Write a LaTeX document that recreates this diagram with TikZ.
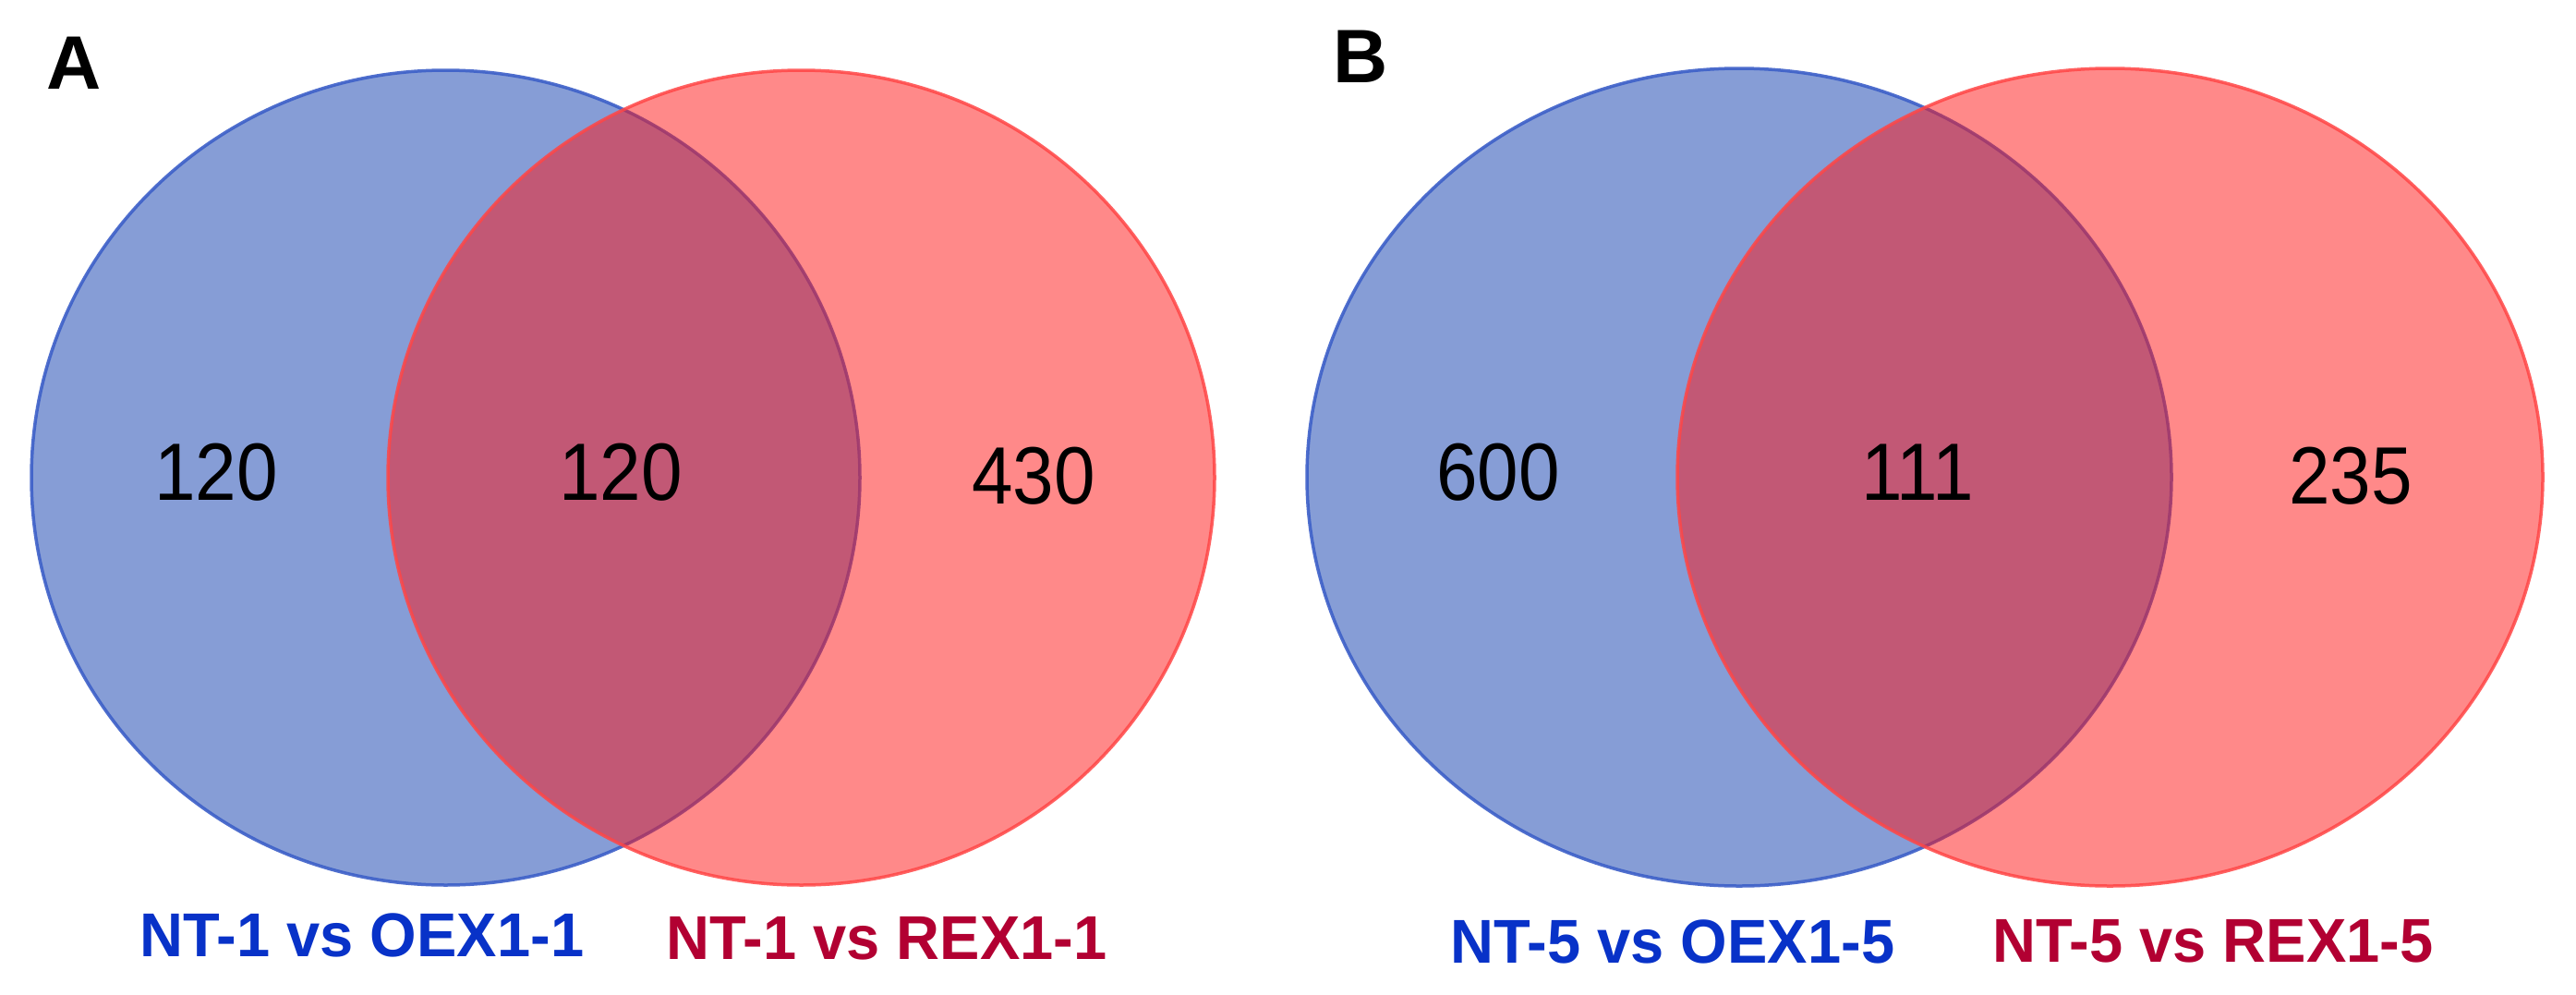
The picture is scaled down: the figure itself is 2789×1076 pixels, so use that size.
\documentclass[tikz,border=0pt]{standalone}
\usepackage{fontspec}
\setmainfont{Liberation Sans}
\definecolor{setblue}{RGB}{15,61,175}
\definecolor{setred}{RGB}{255,21,21}
\definecolor{edgeblue}{RGB}{60,95,200}
\definecolor{edgered}{RGB}{255,70,70}
\definecolor{labblue}{RGB}{8,50,200}
\definecolor{labred}{RGB}{178,0,50}
\tikzset{
  blueset/.style={fill=setblue,fill opacity=0.5,draw=edgeblue,draw opacity=0.9,line width=3.5pt},
  redset/.style={fill=setred,fill opacity=0.5,draw=edgered,draw opacity=0.85,line width=3.5pt},
  count/.style={inner sep=0pt,anchor=center,xscale=0.91,font=\fontsize{88}{100}\selectfont},
  setlabel/.style={inner sep=0pt,anchor=center,xscale=0.97,font=\fontsize{67}{80}\selectfont\bfseries},
  panel/.style={inner sep=0pt,anchor=center,font=\fontsize{82}{95}\selectfont\bfseries}
}
\begin{document}
\begin{tikzpicture}[x=1pt,y=-1pt]
\useasboundingbox (0,0) rectangle (2789,1076);
\fill[white] (0,0) rectangle (2789,1076);
% Panel A
\draw[blueset] (482.5,517) ellipse [x radius=448.5, y radius=441];
\draw[redset] (867.5,517) ellipse [x radius=447.5, y radius=441];
\node[panel] (pA) at (80,68) {A};
\node[count] (a1) at (234,511) {120};
\node[count] (a2) at (672,511) {120};
\node[count] (a3) at (1119,515) {430};
\node[setlabel,text=labblue] (la1) at (392,1012) {NT-1 vs OEX1-1};
\node[setlabel,text=labred] (la2) at (960,1016) {NT-1 vs REX1-1};
% Panel B
\draw[blueset] (1883,516.5) ellipse [x radius=468, y radius=442.5];
\draw[redset] (2284.5,516.5) ellipse [x radius=468.5, y radius=442.5];
\node[panel] (pB) at (1473,61) {B};
\node[count] (b1) at (1622,511) {600};
\node[count] (b2) at (2076,511) {111};
\node[count] (b3) at (2545,515) {235};
\node[setlabel,text=labblue] (lb1) at (1811,1019) {NT-5 vs OEX1-5};
\node[setlabel,text=labred] (lb2) at (2396,1019) {NT-5 vs REX1-5};
\end{tikzpicture}
\end{document}
